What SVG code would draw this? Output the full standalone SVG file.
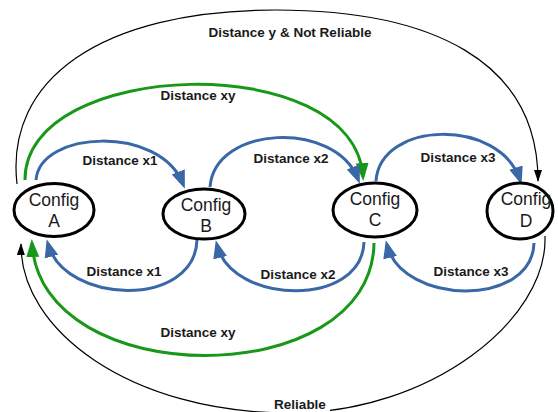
<svg xmlns="http://www.w3.org/2000/svg" width="558" height="412" viewBox="0 0 558 412">
<defs>
<style>
.node ellipse{fill:#fff;stroke:#000;stroke-width:3}
.node text{font-family:"Liberation Sans",Arial,sans-serif;font-size:17.5px;fill:#1a1a1a;text-anchor:middle}
.lbl{font-family:"Liberation Sans",Arial,sans-serif;font-size:13.5px;font-weight:bold;fill:#1a1a1a;text-anchor:middle}
.blue{fill:none;stroke:#3a67a6;stroke-width:3}
.green{fill:none;stroke:#189818;stroke-width:3}
.black{fill:none;stroke:#000;stroke-width:1.2}
</style>
<marker id="ab" markerUnits="userSpaceOnUse" markerWidth="20" markerHeight="16" refX="13" refY="7" orient="auto"><path d="M0,0 L18,7 L0,14 z" fill="#3a67a6"/></marker>
<marker id="ag" markerUnits="userSpaceOnUse" markerWidth="20" markerHeight="14" refX="14" refY="6.5" orient="auto"><path d="M0,0 L18,6.5 L0,13 z" fill="#189818"/></marker>
<marker id="ak" markerUnits="userSpaceOnUse" markerWidth="14" markerHeight="9" refX="11" refY="4" orient="auto"><path d="M0,0 L12,4 L0,8 z" fill="#000"/></marker>
</defs>
<rect width="558" height="412" fill="#fff"/>
<g id="connectors">
<path class="black" d="M17 184 C5 80 100 10 276 10 C430 10 538 60 538 181" marker-end="url(#ak)"/>
<path class="black" d="M545 236 C548 320 430 413 290 413 C130 413 20 330 21 244" marker-end="url(#ak)"/>
<path class="green" d="M25 180 C24 58 355 48 363 177" marker-end="url(#ag)"/>
<path class="green" d="M374 243 C372 393 40 393 32 243" marker-end="url(#ag)"/>
<path class="blue" d="M36 180 C40 130 160 125 183 184" marker-end="url(#ab)"/>
<path class="blue" d="M210 187 C215 125 335 120 358 179" marker-end="url(#ab)"/>
<path class="blue" d="M376 181 C380 120 500 118 520 180" marker-end="url(#ab)"/>
<path class="blue" d="M197 240 C195 308 65 305 48 244" marker-end="url(#ab)"/>
<path class="blue" d="M364 242 C362 308 232 305 217 245" marker-end="url(#ab)"/>
<path class="blue" d="M534 243 C532 308 402 305 387 245" marker-end="url(#ab)"/>
<text class="lbl" x="290" y="37">Distance y &amp; Not Reliable</text>
<text class="lbl" x="198" y="100">Distance xy</text>
<text class="lbl" x="120" y="165">Distance x1</text>
<text class="lbl" x="291" y="163">Distance x2</text>
<text class="lbl" x="458" y="162">Distance x3</text>
<text class="lbl" x="124" y="276">Distance x1</text>
<text class="lbl" x="298" y="279">Distance x2</text>
<text class="lbl" x="471" y="276">Distance x3</text>
<text class="lbl" x="198" y="337">Distance xy</text>
<rect x="270" y="395" width="60" height="17" fill="#fff"/>
<text class="lbl" x="300" y="409">Reliable</text>
</g>
<g id="nodeA" class="node"><ellipse cx="54" cy="210" rx="40" ry="26.5"/><text x="54" y="206">Config</text><text x="54" y="227">A</text></g>
<g id="nodeB" class="node"><ellipse cx="204" cy="214" rx="41" ry="25"/><text x="206" y="211">Config</text><text x="206" y="232">B</text></g>
<g id="nodeC" class="node"><ellipse cx="375" cy="210" rx="42" ry="27"/><text x="375" y="205">Config</text><text x="375" y="226">C</text></g>
<g id="nodeD" class="node"><ellipse cx="520" cy="211" rx="33" ry="28"/><text x="526" y="205">Config</text><text x="526" y="227">D</text></g>
</svg>
